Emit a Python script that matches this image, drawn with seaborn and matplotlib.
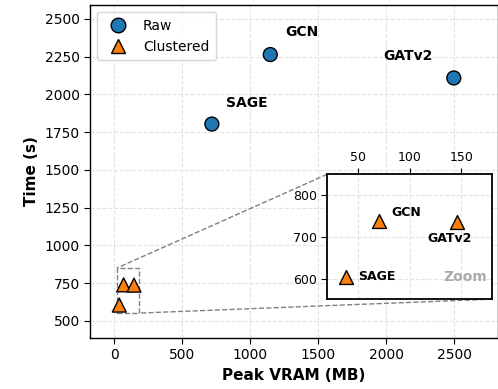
import matplotlib
matplotlib.use("Agg")
import matplotlib.pyplot as plt
import seaborn as sns
import pandas as pd
from mpl_toolkits.axes_grid1.inset_locator import mark_inset

models = ["SAGE", "GCN", "GATv2"]
raw_vram = [718, 1147, 2495]
raw_time = [1803, 2263, 2108]
clu_vram = [38, 70, 146]
clu_time = [605, 739, 737]

df = pd.DataFrame({
    "model": models + models,
    "vram": raw_vram + clu_vram,
    "time": raw_time + clu_time,
    "kind": ["Raw"] * 3 + ["Clustered"] * 3,
})

sns.set_style("whitegrid", {"grid.linestyle": "--", "grid.color": "#e3e3e3",
                            "axes.edgecolor": "black", "text.color": "black",
                            "axes.labelcolor": "black", "xtick.color": "black",
                            "ytick.color": "black"})
plt.rcParams["font.family"] = ["DejaVu Sans"]

fig = plt.figure(figsize=(4.98, 3.89), dpi=100)
ax = fig.add_axes([0.181, 0.131, 0.818, 0.857])
palette = {"Raw": "#1f77b4", "Clustered": "#ff7f0e"}
markers = {"Raw": "o", "Clustered": "^"}
sns.scatterplot(data=df, x="vram", y="time", hue="kind", style="kind",
                palette=palette, markers=markers, s=100, edgecolor="black",
                linewidth=1, ax=ax, zorder=3)
ax.set_xlim(-176, 2816)
ax.set_ylim(387, 2593)
ax.set_xticks([0, 500, 1000, 1500, 2000, 2500])
ax.set_yticks([500, 750, 1000, 1250, 1500, 1750, 2000, 2250, 2500])
ax.set_xlabel("Peak VRAM (MB)", fontsize=11, fontweight="bold")
ax.set_ylabel("Time (s)", fontsize=11, fontweight="bold")
ax.tick_params(axis="both", labelsize=10, length=4, color="black", left=True, bottom=True)
for sp in ax.spines.values():
    sp.set_color("black")
    sp.set_linewidth(1)
leg = ax.legend(loc="upper left", fontsize=10, frameon=True, borderpad=0.5,
                markerscale=1.05)
leg.get_frame().set_edgecolor("#cccccc")

offsets_main = {"SAGE": (10, 15, "left"), "GCN": (11, 16, "left"), "GATv2": (-15, 16, "right")}
for m, x, y in zip(models, raw_vram, raw_time):
    dx, dy, ha = offsets_main[m]
    ax.annotate(m, (x, y), xytext=(dx, dy), textcoords="offset points",
                ha=ha, va="center", fontsize=10, fontweight="bold")

axins = fig.add_axes([0.657, 0.231, 0.331, 0.321])
sns.scatterplot(data=df[df.kind == "Clustered"], x="vram", y="time",
                color="#ff7f0e", marker="^", s=100, edgecolor="black",
                linewidth=1, ax=axins, legend=False, zorder=3)
axins.set_xlim(20, 180)
axins.set_ylim(552, 850)
axins.set_xticks([50, 100, 150])
axins.set_yticks([600, 700, 800])
axins.xaxis.tick_top()
axins.set_xlabel("")
axins.set_ylabel("")
axins.tick_params(axis="both", labelsize=9, length=4, color="black", top=True, left=True)
for sp in axins.spines.values():
    sp.set_color("black")
    sp.set_linewidth(1.3)
offsets_in = {"SAGE": (9, 0, "left"), "GCN": (9, 6, "left"), "GATv2": (-5, -12, "center")}
for m, x, y in zip(models, clu_vram, clu_time):
    dx, dy, ha = offsets_in[m]
    axins.annotate(m, (x, y), xytext=(dx, dy), textcoords="offset points",
                   ha=ha, va="center", fontsize=9, fontweight="bold")
axins.text(0.97, 0.18, "Zoom", transform=axins.transAxes, ha="right", va="center",
           fontsize=10, fontweight="bold", color="#aaaaaa")

mark_inset(ax, axins, loc1=2, loc2=4, fc="none", ec="gray", ls="--", lw=1)

fig.savefig("out.png", dpi=100)
